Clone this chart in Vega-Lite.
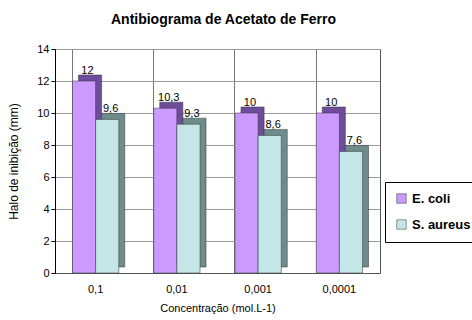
{
  "$schema": "https://vega.github.io/schema/vega-lite/v6.json",
  "autosize": {"type": "none"},
  "width": 325,
  "height": 224,
  "padding": {"left": 55, "top": 49, "right": 92, "bottom": 47},
  "background": "white",
  "title": {"text": "Antibiograma de Acetato de Ferro", "font": "Liberation Sans Narrow, Liberation Sans", "fontSize": 14, "fontWeight": "bold", "color": "#000", "anchor": "middle", "offset": 16, "dx": 6},
  "data": {"values": [
    {"conc": "0,1", "serie": "E. coli", "halo": 12},
    {"conc": "0,1", "serie": "S. aureus", "halo": 9.6},
    {"conc": "0,01", "serie": "E. coli", "halo": 10.3},
    {"conc": "0,01", "serie": "S. aureus", "halo": 9.3},
    {"conc": "0,001", "serie": "E. coli", "halo": 10},
    {"conc": "0,001", "serie": "S. aureus", "halo": 8.6},
    {"conc": "0,0001", "serie": "E. coli", "halo": 10},
    {"conc": "0,0001", "serie": "S. aureus", "halo": 7.6}
  ]},
  "encoding": {
    "x": {"field": "conc", "type": "nominal", "sort": null,
      "scale": {"paddingInner": 0.43, "paddingOuter": 0.215},
      "axis": {"title": "Concentração (mol.L-1)", "labelAngle": 0, "labelFontSize": 11, "labelFont": "Liberation Sans", "labelColor": "#000", "labelPadding": 10, "titleFont": "Liberation Sans", "titleFontSize": 11, "titleFontWeight": "normal", "titleColor": "#000", "titlePadding": 8, "grid": true, "gridColor": "#777", "bandPosition": 0, "ticks": false, "domainColor": "#555"}},
    "y": {"field": "halo", "type": "quantitative", "scale": {"domain": [0, 14]},
      "axis": {"title": "Halo de inibição (mm)", "values": [0, 2, 4, 6, 8, 10, 12, 14], "labelFontSize": 11, "labelFont": "Liberation Sans", "labelColor": "#000", "titleFont": "Liberation Sans", "titleFontSize": 12, "titleFontWeight": "normal", "titleColor": "#000", "titlePadding": 16, "gridColor": "#999", "tickColor": "#000", "tickSize": 4, "domainColor": "#000"}}
  },
  "layer": [
    {
      "mark": {"type": "bar", "yOffset": -6, "stroke": "#333", "strokeWidth": 0.5},
      "encoding": {
        "xOffset": {"field": "serie", "type": "nominal", "scale": {"range": [6, 52.3], "paddingInner": 0, "paddingOuter": 0}},
        "color": {"condition": {"test": "datum.serie === 'E. coli'", "value": "#6E4C9C"}, "value": "#6E8C8C"}
      }
    },
    {
      "mark": {"type": "bar", "stroke": "#333", "strokeWidth": 0.5},
      "encoding": {
        "xOffset": {"field": "serie", "type": "nominal", "scale": {"paddingInner": 0, "paddingOuter": 0}},
        "color": {"field": "serie", "type": "nominal", "scale": {"domain": ["E. coli", "S. aureus"], "range": ["#CC99FF", "#C4E6E6"]},
          "legend": {"title": null, "orient": "none", "legendX": 330, "legendY": 133, "symbolType": "square", "symbolSize": 90, "symbolStrokeColor": "#333", "symbolStrokeWidth": 0.5, "labelFont": "Liberation Sans Narrow, Liberation Sans", "labelFontSize": 13, "labelFontWeight": "bold", "labelColor": "#000", "rowPadding": 12, "padding": 10, "strokeColor": "#000", "fillColor": "white"}}
      }
    },
    {
      "mark": {"type": "text", "dy": -10, "dx": 15, "font": "Liberation Sans Narrow, Liberation Sans", "fontSize": 11, "color": "#000"},
      "encoding": {
        "xOffset": {"field": "serie", "type": "nominal", "scale": {"range": [0, 23.15], "padding": 0}},
        "text": {"field": "halo", "type": "quantitative", "format": "~g"}
      }
    }
  ],
  "resolve": {"scale": {"xOffset": "independent"}},
  "config": {
    "locale": {"number": {"decimal": ",", "thousands": ".", "grouping": [3], "currency": ["", ""]}},
    "view": {"stroke": "#555"}
  }
}
